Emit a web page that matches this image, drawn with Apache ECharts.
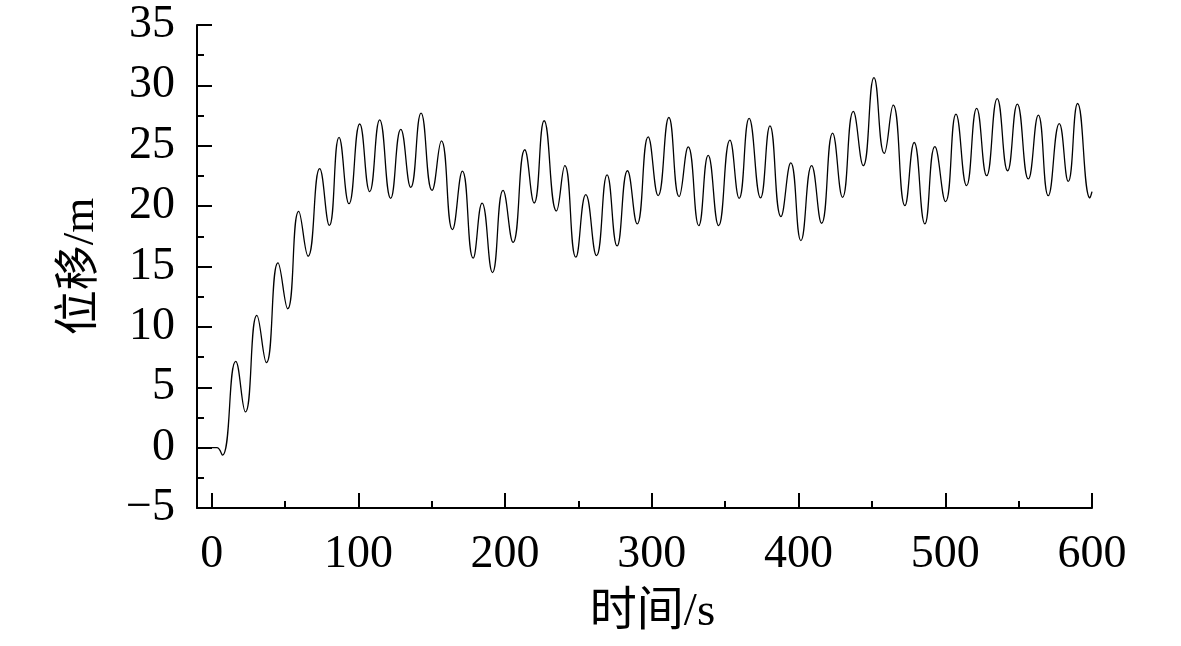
<!DOCTYPE html>
<html>
<head>
<meta charset="utf-8">
<title>位移-时间</title>
<script src="https://cdn.jsdelivr.net/npm/echarts@6/dist/echarts.min.js"></script>
<style>
  html, body { margin: 0; padding: 0; background: #fff; }
  #chart { width: 1181px; height: 646px; }
</style>
</head>
<body>
<div id="chart"></div>
<script>
// 时间 (s) —— 读图得到的各个极值点
var timeS = [
  0, 3.5, 7.3, 16.4, 23.0, 30.8, 37.3, 45.2, 51.8, 59.3, 65.7, 73.6, 80.2, 86.8, 93.6,
  100.9, 107.7, 114.5, 122.0, 128.9, 135.7, 142.7, 150.2, 156.6, 164.1, 170.9, 178.2,
  184.3, 191.4, 198.6, 205.4, 213.4, 219.8, 226.6, 235.0, 240.7, 248.2, 255.0, 262.3,
  269.5, 276.3, 283.4, 290.0, 297.5, 304.3, 311.6, 318.6, 324.8, 332.0, 338.4, 345.5,
  353.2, 359.5, 366.3, 374.1, 380.5, 388.0, 394.7, 401.6, 408.9, 415.7, 423.2, 430.0,
  437.3, 444.1, 451.4, 458.4, 464.5, 472.5, 478.8, 486.1, 492.9, 500.2, 507.3, 514.5,
  521.4, 528.2, 535.4, 542.5, 549.1, 556.6, 563.4, 570.2, 577.7, 583.8, 590.2, 598.6, 600
];
// 位移 (m)
var dispM = [
  0, 0, -0.62, 7.15, 2.96, 10.95, 7.04, 15.3, 11.5, 19.57, 15.85, 23.1, 18.4, 25.7, 20.2,
  26.8, 21.2, 27.15, 20.65, 26.35, 21.55, 27.7, 21.3, 25.4, 18.05, 22.9, 15.7,
  20.25, 14.5, 21.3, 17.0, 24.67, 20.26, 27.07, 19.6, 23.35, 15.77, 20.95, 15.9,
  22.58, 16.7, 22.93, 18.53, 25.74, 20.87, 27.34, 20.79, 24.9, 18.39, 24.2, 18.39,
  25.47, 20.65, 27.26, 20.68, 26.65, 19.13, 23.58, 17.15, 23.35, 18.58, 26.05, 20.73,
  27.84, 23.35, 30.65, 24.37, 28.36, 20.04, 25.27, 18.53, 24.92, 20.37, 27.62, 21.7,
  28.09, 22.52, 28.91, 22.93, 28.45, 22.25, 27.54, 20.87, 26.84, 22.05, 28.5, 20.68, 21.2
];

var xMajorTicks = [0, 100, 200, 300, 400, 500, 600];
var xMinorTicks = [50, 150, 250, 350, 450, 550];

var seriesData = timeS.map(function (t, i) { return [t, dispM[i]]; });

var FONT = '"Liberation Serif", "Times New Roman", "Noto Sans CJK SC", serif';

var chart = echarts.init(document.getElementById('chart'));
chart.setOption({
  backgroundColor: '#fff',
  animation: false,
  grid: {
    left: 197,
    right: 89,
    top: 25,
    bottom: 138,
    containLabel: false,
    outerBoundsMode: 'none'
  },
  xAxis: [{
    type: 'value',
    min: -10,
    max: 600,
    position: 'bottom',
    name: '时间/s',
    nameLocation: 'middle',
    nameGap: 81,
    nameTextStyle: { fontFamily: FONT, fontSize: 47, color: '#000', padding: [0, 0, 0, 16] },
    axisLine: { show: true, onZero: false, lineStyle: { color: '#000', width: 2 } },
    axisTick: { show: true, inside: true, length: 15, customValues: xMajorTicks, lineStyle: { color: '#000', width: 2 } },
    axisLabel: { show: true, customValues: xMajorTicks, margin: 24, fontFamily: FONT, fontSize: 46, color: '#000' },
    splitLine: { show: false }
  }, {
    type: 'value',
    min: -10,
    max: 600,
    position: 'bottom',
    axisLine: { show: false, onZero: false },
    axisTick: { show: true, inside: true, length: 7, customValues: xMinorTicks, lineStyle: { color: '#000', width: 2 } },
    axisLabel: { show: false },
    splitLine: { show: false }
  }],
  yAxis: {
    type: 'value',
    min: -5,
    max: 35,
    interval: 5,
    name: '位移/m',
    nameLocation: 'middle',
    nameGap: 93,
    nameTextStyle: { fontFamily: FONT, fontSize: 45, color: '#000' },
    axisLine: { show: true, onZero: false, lineStyle: { color: '#000', width: 2 } },
    axisTick: { show: true, inside: true, length: 15, lineStyle: { color: '#000', width: 2 } },
    minorTick: { show: true, splitNumber: 2, length: 7, lineStyle: { color: '#000', width: 2 } },
    axisLabel: {
      margin: 22,
      fontFamily: FONT,
      fontSize: 46,
      color: '#000',
      formatter: function (v) { return String(v).replace('-', '\u2212'); }
    },
    splitLine: { show: false },
    minorSplitLine: { show: false }
  },
  series: [{
    type: 'line',
    xAxisIndex: 0,
    data: seriesData,
    smooth: 0.5,
    showSymbol: false,
    symbol: 'none',
    lineStyle: { color: '#000', width: 1.3 },
    silent: true
  }]
});
</script>
</body>
</html>
